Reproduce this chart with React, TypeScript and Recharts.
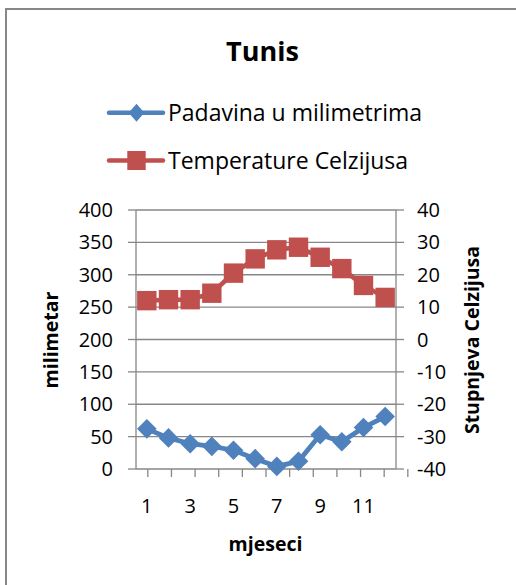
import React from 'react';
import { LineChart, Line, XAxis, YAxis, CartesianGrid, Legend } from 'recharts';

const MONTHS = [1, 2, 3, 4, 5, 6, 7, 8, 9, 10, 11, 12];
const PRECIPITATION_MM = [62, 48, 39, 35, 29, 16, 4, 12, 53, 42, 64, 81];
const TEMPERATURE_C = [12, 12.3, 12.3, 14.3, 20.5, 24.9, 27.7, 28.5, 25.4, 21.9, 16.7, 13];
const MONTH_TICK_LABELS = [1, 3, 5, 7, 9, 11];
const MM_TICKS = [0, 50, 100, 150, 200, 250, 300, 350, 400];
const CELSIUS_TICKS = [-40, -30, -20, -10, 0, 10, 20, 30, 40];
const TITLE = 'Tunis';
const PRECIP_NAME = 'Padavina u milimetrima';
const TEMP_NAME = 'Temperature Celzijusa';
const X_TITLE = 'mjeseci';
const LEFT_TITLE = 'milimetar';
const RIGHT_TITLE = 'Stupnjeva Celzijusa';

const BLUE = '#4F81BD';
const RED = '#C0504D';
const GRAY = '#878787';
const FONT = "'Open Sans', sans-serif";

const data = MONTHS.map((m, i) => ({
  month: m,
  precip: PRECIPITATION_MM[i],
  temp: TEMPERATURE_C[i],
}));
const MONTH_BOUNDARIES = [...MONTHS.map((m) => m - 0.5), MONTHS[MONTHS.length - 1] + 0.5];
const X_DOMAIN = [MONTHS[0] - 0.5, MONTHS[MONTHS.length - 1] + 0.5];

const DiamondDot = (props: any) => {
  const { cx, cy, index } = props;
  if (cx == null || cy == null) return <g key={`dd${index}`} />;
  const r = 9.8;
  return (
    <polygon
      key={`dd${index}`}
      points={`${cx},${cy - r} ${cx + r},${cy} ${cx},${cy + r} ${cx - r},${cy}`}
      fill={BLUE}
    />
  );
};

const SquareDot = (props: any) => {
  const { cx, cy, index } = props;
  if (cx == null || cy == null) return <g key={`sd${index}`} />;
  const h = 9.7;
  return <rect key={`sd${index}`} x={cx - h} y={cy - h} width={h * 2} height={h * 2} fill={RED} />;
};

const MARKERS: Record<string, string> = { precip: 'diamond', temp: 'square' };

const LegendContent = (props: any) => {
  const payload = props.payload || [];
  return (
    <svg width={340} height={95} style={{ display: 'block', overflow: 'visible' }}>
      {payload.map((entry: any, i: number) => {
        const cy = 22.7 + i * 47.8;
        const cx = 36.5;
        const key = entry.dataKey ?? (i === 0 ? 'precip' : 'temp');
        const shape = MARKERS[key as string] || (i === 0 ? 'diamond' : 'square');
        return (
          <g key={`lg${i}`}>
            <line x1={9} y1={cy} x2={63} y2={cy} stroke={entry.color} strokeWidth={4.5} strokeLinecap="round" />
            {shape === 'diamond' ? (
              <polygon points={`${cx},${cy - 9} ${cx + 7.8},${cy} ${cx},${cy + 9} ${cx - 7.8},${cy}`} fill={entry.color} />
            ) : (
              <rect x={cx - 9.2} y={cy - 9.5} width={18.4} height={19} fill={entry.color} />
            )}
            <text x={68} y={cy + 8} fontFamily={FONT} fontSize={23} fill="#000">
              {entry.value}
            </text>
          </g>
        );
      })}
    </svg>
  );
};

const tickStyle = { fontFamily: FONT, fontSize: 20, fill: '#000' };

const MonthLabel = (props: any) => {
  const { x, y, payload } = props;
  return (
    <text x={x} y={y} dy="0.71em" textAnchor="middle" fontFamily={FONT} fontSize={20} fill="#000">
      {payload?.value}
    </text>
  );
};

export default function App() {
  return (
    <div style={{ position: 'absolute', left: 0, top: 0, width: 516, height: 585, background: '#fff', overflow: 'hidden' }}>
      <div
        style={{
          position: 'absolute',
          left: 5,
          top: 8,
          width: 530,
          height: 600,
          borderTop: `2px solid ${GRAY}`,
          borderLeft: `2px solid ${GRAY}`,
          boxSizing: 'border-box',
        }}
      />
      <div style={{ position: 'absolute', left: 0, top: 0 }}>
        <LineChart width={516} height={585} data={data} margin={{ top: 210, right: 60, bottom: 114, left: 76 }}>
          <CartesianGrid yAxisId="l" xAxisId="m" vertical={false} stroke={GRAY} strokeWidth={1.3} />
          <XAxis
            xAxisId="m"
            dataKey="month"
            type="number"
            domain={X_DOMAIN}
            allowDataOverflow
            ticks={MONTH_TICK_LABELS}
            interval={0}
            height={1}
            axisLine={false}
            tickLine={false}
            tickSize={8}
            tickMargin={21}
            tick={<MonthLabel />}
          />
          <XAxis
            xAxisId="b"
            type="number"
            domain={X_DOMAIN}
            allowDataOverflow
            ticks={MONTH_BOUNDARIES}
            interval={0}
            height={1}
            axisLine={false}
            tickLine={{ stroke: GRAY, strokeWidth: 1.3 }}
            tickSize={8}
            tick={() => <g />}
          />
          <YAxis
            yAxisId="l"
            orientation="left"
            width={60}
            domain={[MM_TICKS[0], MM_TICKS[MM_TICKS.length - 1]]}
            ticks={MM_TICKS}
            interval={0}
            axisLine={{ stroke: GRAY, strokeWidth: 1.3 }}
            tickLine={{ stroke: GRAY, strokeWidth: 1.3 }}
            tickSize={8}
            tickMargin={15}
            tick={tickStyle}
          />
          <YAxis
            yAxisId="r"
            orientation="right"
            width={60}
            domain={[CELSIUS_TICKS[0], CELSIUS_TICKS[CELSIUS_TICKS.length - 1]]}
            ticks={CELSIUS_TICKS}
            interval={0}
            axisLine={{ stroke: GRAY, strokeWidth: 1.3 }}
            tickLine={{ stroke: GRAY, strokeWidth: 1.3 }}
            tickSize={8}
            tickMargin={13}
            tick={tickStyle}
          />
          <Legend
            layout="vertical"
            align="center"
            verticalAlign="middle"
            content={<LegendContent />}
            wrapperStyle={{ position: 'absolute', left: 100, top: 90, width: 340, height: 95 }}
          />
          <Line
            xAxisId="m"
            yAxisId="l"
            dataKey="precip"
            name={PRECIP_NAME}
            stroke={BLUE}
            strokeWidth={4.8}
            dot={DiamondDot}
            activeDot={false}
            isAnimationActive={false}
            type="linear"
          />
          <Line
            xAxisId="m"
            yAxisId="r"
            dataKey="temp"
            name={TEMP_NAME}
            stroke={RED}
            strokeWidth={4.6}
            dot={SquareDot}
            activeDot={false}
            isAnimationActive={false}
            type="linear"
          />
        </LineChart>
      </div>
      <svg width={516} height={585} style={{ position: 'absolute', left: 0, top: 0, pointerEvents: 'none' }}>
        <text x={262.5} y={61} textAnchor="middle" fontFamily={FONT} fontWeight="bold" fontSize={27} fill="#000">
          {TITLE}
        </text>
        <text x={265.5} y={550.5} textAnchor="middle" fontFamily={FONT} fontWeight="bold" fontSize={19.5} fill="#000">
          {X_TITLE}
        </text>
        <text
          x={58}
          y={340}
          transform="rotate(-90 58 340)"
          textAnchor="middle"
          fontFamily={FONT}
          fontWeight="bold"
          fontSize={19.5}
          fill="#000"
        >
          {LEFT_TITLE}
        </text>
        <text
          x={479}
          y={340}
          transform="rotate(-90 479 340)"
          textAnchor="middle"
          fontFamily={FONT}
          fontWeight="bold"
          fontSize={19.5}
          fill="#000"
        >
          {RIGHT_TITLE}
        </text>
      </svg>
    </div>
  );
}
